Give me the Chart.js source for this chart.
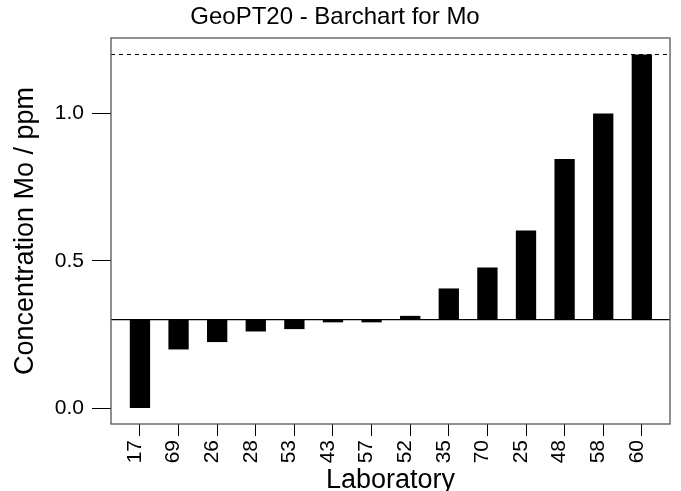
<!DOCTYPE html>
<html>
<head>
<meta charset="utf-8">
<script src="https://cdn.jsdelivr.net/npm/chart.js@4"></script>
<style>
  html, body { margin: 0; padding: 0; background: #fff; }
  #wrap { width: 681px; height: 491px; }
</style>
</head>
<body>
<div id="wrap"><canvas id="barMo" width="681" height="491"></canvas></div>
<script>
// Laboratorios ordenados por valor
const labs = ["17", "69", "26", "28", "53", "43", "57", "52", "35", "70", "25", "48", "58", "60"];
const conc = [0.0, 0.199, 0.224, 0.26, 0.268, 0.291, 0.291, 0.313, 0.406, 0.477, 0.603, 0.845, 1.0, 1.2];
const yTicks = [0.0, 0.5, 1.0];
const assigned = 0.3;   // valor de referencia (linha solida)
const upperLim = 1.2;   // limite superior (linha tracejada)

const font = "'Liberation Sans', Arial, sans-serif";

// linhas horizontais e moldura do grafico
const refLines = {
  id: "refLines",
  afterDatasetsDraw(chart) {
    const { ctx, chartArea: a, scales: { y } } = chart;
    ctx.save();
    ctx.strokeStyle = "#000";
    ctx.lineWidth = 1.2;
    let py = y.getPixelForValue(assigned);
    ctx.beginPath(); ctx.moveTo(a.left, py); ctx.lineTo(a.right, py); ctx.stroke();
    ctx.lineWidth = 1;
    ctx.setLineDash([4, 4]);
    py = y.getPixelForValue(upperLim);
    ctx.beginPath(); ctx.moveTo(a.left, py); ctx.lineTo(a.right, py); ctx.stroke();
    ctx.setLineDash([]);
    ctx.strokeStyle = "#555";
    ctx.lineWidth = 1.3;
    ctx.strokeRect(a.left, a.top, a.right - a.left, a.bottom - a.top);
    ctx.restore();
  }
};

new Chart(document.getElementById("barMo"), {
  type: "bar",
  data: {
    datasets: [{
      data: labs.map((l, i) => ({ x: i, y: conc[i] })),
      base: assigned,
      backgroundColor: "#000",
      borderWidth: 0,
      barPercentage: 0.526,
      categoryPercentage: 1.0
    }]
  },
  options: {
    responsive: false,
    animation: false,
    layout: { padding: { left: 0, right: 11, top: 0, bottom: 0 } },
    plugins: {
      legend: { display: false },
      tooltip: { enabled: false },
      title: {
        display: true,
        text: "GeoPT20 - Barchart for Mo",
        color: "#000",
        font: { family: font, size: 24, weight: "normal" },
        padding: { top: 3, bottom: 6.2 }
      }
    },
    scales: {
      x: {
        type: "linear",
        min: -0.75,
        max: 13.73,
        offset: false,
        afterBuildTicks: s => { s.ticks = labs.map((l, i) => ({ value: i })); },
        afterFit: s => { s.height = 67; },
        ticks: {
          autoSkip: false,
          minRotation: 90,
          maxRotation: 90,
          padding: 4,
          labelOffset: -5,
          color: "#000",
          font: { family: font, size: 21 },
          callback: v => labs[v]
        },
        grid: { drawOnChartArea: false, offset: false, tickLength: 12, color: "#000" },
        border: { display: false },
        title: {
          display: true,
          text: "Laboratory",
          color: "#000",
          font: { family: font, size: 27, lineHeight: 0.8 },
          padding: { top: 0, bottom: 0 }
        }
      },
      y: {
        min: -0.054,
        max: 1.256,
        afterBuildTicks: s => { s.ticks = yTicks.map(v => ({ value: v })); },
        afterFit: s => { s.width = 111; },
        ticks: {
          padding: 8,
          color: "#000",
          font: { family: font, size: 21 },
          callback: v => v.toFixed(1)
        },
        grid: { drawOnChartArea: false, tickLength: 19, color: "#000" },
        border: { display: false },
        title: {
          display: true,
          text: "Concentration Mo / ppm",
          color: "#000",
          font: { family: font, size: 27 },
          padding: { top: 9, bottom: 0 }
        }
      }
    }
  },
  plugins: [refLines]
});
</script>
</body>
</html>
